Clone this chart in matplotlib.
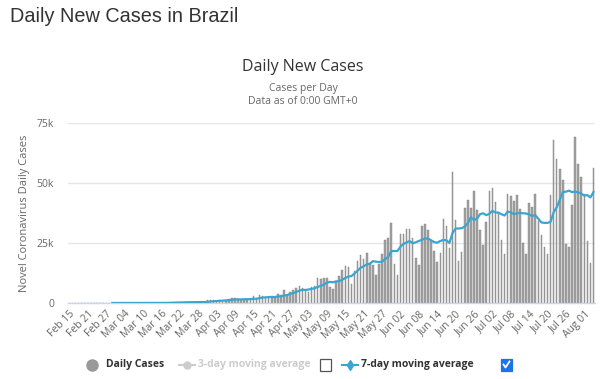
import matplotlib
matplotlib.use("Agg")
import matplotlib.pyplot as plt
from matplotlib.lines import Line2D
from matplotlib.patches import Rectangle
import datetime as dt

# daily new cases, Feb 15 .. Aug 04 (2020)
feb = [0]*11 + [1, 0, 0, 1]
mar = [0, 0, 0, 1, 5, 5, 6, 6, 5, 6, 18, 25, 21, 23, 79, 34, 57, 137, 193, 283,
       224, 418, 345, 310, 232, 482, 502, 487, 352, 323, 1138]
apr = [1119, 1208, 1012, 1304, 770, 1031, 1873, 2136, 1922, 1546, 1089, 1442, 1261,
       1832, 3058, 2105, 3257, 2917, 2055, 1927, 2498, 2678, 3735, 3503, 5514, 3379,
       4613, 5385, 6276, 7218]
may = [6209, 4970, 4588, 6633, 6935, 10503, 9888, 10222, 10611, 6760, 5632, 9258,
       11385, 13944, 15305, 14919, 7938, 13140, 17408, 19951, 18508, 20803, 16508,
       15813, 11687, 16324, 20599, 26417, 26928, 33274, 16409]
jun = [11598, 28936, 28633, 30925, 30830, 27075, 18921, 15654, 32091, 32913, 30412,
       25982, 21704, 17110, 20647, 34918, 32188, 22765, 54771, 34666, 17459, 21432,
       39436, 42725, 39483, 46860, 38693, 30476, 24052, 33846]
jul = [46712, 48105, 42223, 37923, 26051, 20229, 45305, 44571, 42619, 45048, 39023,
       24831, 20286, 41857, 39924, 45403, 34177, 28532, 23529, 20257, 44887, 67860,
       59961, 55891, 51147, 24578, 23284, 40816, 69074, 57837, 52383]
aug = [45392, 25800, 16641, 56411]
daily = feb + mar + apr + may + jun + jul + aug

# 7-day moving average, starting Feb 29
avg7 = [0, 0, 0, 0, 0, 1, 2, 2, 3, 4,
        5, 7, 10, 12, 15, 25, 29, 37, 54, 78, 115, 144,
        192, 237, 273, 286, 328, 359, 397, 387, 384, 502, 629, 733,
        806, 922, 982, 1083, 1188, 1333, 1435, 1512, 1481, 1577, 1610, 1604,
        1736, 1762, 2006, 2267, 2355, 2450, 2545, 2491, 2724, 2759, 3130, 3319,
        3703, 4115, 4629, 5127, 5513, 5436, 5608, 5897, 6118, 6722, 7104, 7677,
        8483, 8793, 8650, 8982, 9108, 9687, 10414, 11029, 11197, 12270, 13434, 14658,
        15310, 16095, 16322, 17447, 17240, 17085, 17177, 18307, 19182, 21577, 21663, 21650,
        23452, 24599, 25243, 25801, 24915, 25274, 25853, 26304, 26916, 26842, 26150, 25382,
        25124, 25837, 26241, 26137, 25045, 29158, 31009, 31059, 31171, 31817, 33322, 35710,
        34580, 35155, 37015, 37389, 36591, 37160, 38392, 37730, 37620, 36987, 36441, 38078,
        37772, 36989, 37392, 37549, 37375, 37303, 36891, 36227, 36625, 35072, 33573, 33387,
        33383, 33816, 37806, 39886, 42988, 46219, 46369, 46801, 46220, 46393, 46090, 45588,
        44766, 44941, 43992, 46220]
avg_start = 14

start = dt.date(2020, 2, 15)
dates = [start + dt.timedelta(days=i) for i in range(len(daily))]
x = list(range(len(daily)))
tick_pos = x[::6]
tick_labels = [dates[i].strftime("%b %d") for i in tick_pos]

W, H = 600, 379
fig = plt.figure(figsize=(W / 100, H / 100), dpi=100)
ax = fig.add_axes([68 / W, 1 - 303 / H, 527 / W, 180 / H])

ax.bar(x, daily, width=0.5, color="#a3a3a3", edgecolor="#808080", linewidth=0.3, zorder=2)
ax.plot(x[avg_start:], avg7, color="#3aa6d0", lw=1.6, zorder=3)

ax.set_xlim(-0.5, len(daily) - 0.5)
ax.set_ylim(0, 75000)
ax.set_yticks([0, 25000, 50000, 75000])
ax.set_yticklabels(["0", "25k", "50k", "75k"])
ax.set_xticks(tick_pos)
ax.set_xticklabels(tick_labels, rotation=45, ha="right", rotation_mode="anchor")
ax.tick_params(axis="y", length=0, pad=10, labelsize=7.5, labelcolor="#666666")
ax.tick_params(axis="x", length=0, pad=4, labelsize=7.5, labelcolor="#666666")
for lab in ax.get_xticklabels() + ax.get_yticklabels():
    lab.set_family("Open Sans")
ax.grid(axis="y", color="#e6e6e6", lw=1, zorder=0)
for s in ["top", "right", "left"]:
    ax.spines[s].set_visible(False)
ax.spines["bottom"].set_color("#ccd6eb")
ax.spines["bottom"].set_linewidth(1)
ax.set_ylabel("Novel Coronavirus Daily Cases", fontsize=8, color="#666666",
              family="Open Sans", labelpad=5)

# titles
fig.text(10 / W, 1 - 17 / H, "Daily New Cases in Brazil", fontsize=14.3, color="#333333",
         family="Liberation Sans", va="center", ha="left")
fig.text(303 / W, 1 - 67 / H, "Daily New Cases", fontsize=11.5, color="#333333",
         family="Open Sans", va="center", ha="center")
fig.text(303 / W, 1 - 88 / H, "Cases per Day", fontsize=7.5, color="#666666",
         family="Open Sans", va="center", ha="center")
fig.text(303 / W, 1 - 101 / H, "Data as of 0:00 GMT+0", fontsize=7.5, color="#666666",
         family="Open Sans", va="center", ha="center")

# legend
ly = 1 - 365 / H
fig.add_artist(Line2D([92 / W], [ly], marker="o", ms=8, color="#999999",
                      transform=fig.transFigure))
fig.text(106 / W, ly, "Daily Cases", fontsize=7.5, weight="bold", color="#333333",
         family="Open Sans", va="center")
fig.add_artist(Line2D([179 / W, 195 / W], [ly, ly], color="#cccccc", lw=1.5,
                      transform=fig.transFigure))
fig.add_artist(Line2D([187 / W], [ly], color="#cccccc", marker="o", ms=5,
                      transform=fig.transFigure))
fig.text(198 / W, ly, "3-day moving average", fontsize=7.5, weight="bold", color="#cccccc",
         family="Open Sans", va="center")
fig.add_artist(Rectangle((320 / W, ly - 6 / H), 11 / W, 12 / H, facecolor="white",
                         edgecolor="#555555", lw=0.9, transform=fig.transFigure))
fig.add_artist(Line2D([342 / W, 358 / W], [ly, ly], color="#3aa6d0", lw=1.5,
                      transform=fig.transFigure))
fig.add_artist(Line2D([350 / W], [ly], color="#3aa6d0", marker="d", ms=5,
                      transform=fig.transFigure))
fig.text(361 / W, ly, "7-day moving average", fontsize=7.5, weight="bold", color="#333333",
         family="Open Sans", va="center")
fig.add_artist(Rectangle((501 / W, ly - 6 / H), 11 / W, 12 / H, facecolor="#1a73e8",
                         edgecolor="#1a73e8", lw=0.9, transform=fig.transFigure))
fig.add_artist(Line2D([503.5 / W, 505.5 / W, 509.5 / W], [ly + 0.5 / H, ly - 2.5 / H, ly + 3.5 / H],
                      color="white", lw=1.3, transform=fig.transFigure))

fig.savefig("out.png", dpi=100)
